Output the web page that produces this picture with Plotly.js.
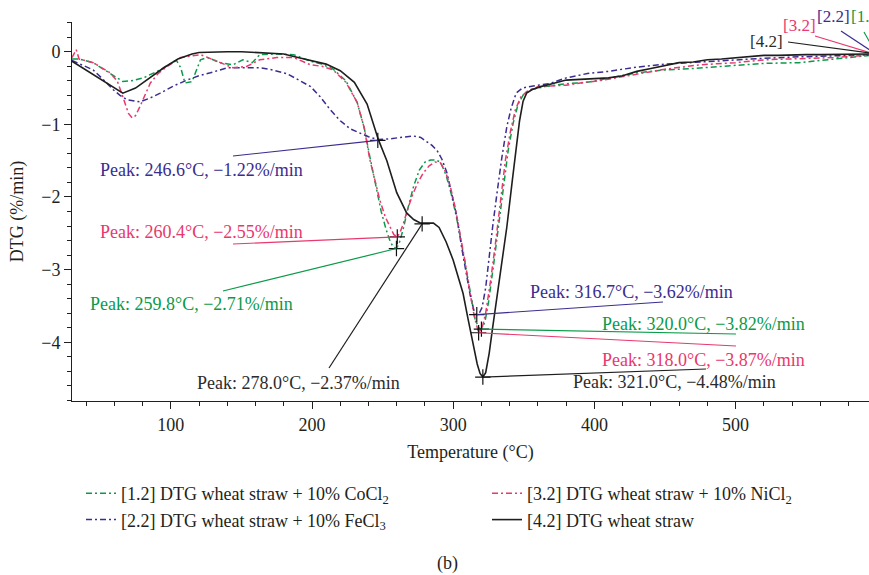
<!DOCTYPE html>
<html>
<head>
<meta charset="utf-8">
<script src="https://cdn.plot.ly/plotly-3.0.1.min.js"></script>
<style>html,body{margin:0;padding:0;overflow:hidden;background:#fff}#chart{width:869px;height:575px}</style>
</head>
<body>
<div id="chart"></div>
<script>
// ---- data ----
const tempCo = [30,35,45,57,62,66,72,80.5,86,92.5,101.7,104,107,110,115,118,121,126,135,144,151,157.6,163,175,187,199,207,215,224,232,237,241,245,249,252.5,255.5,257.7,259.8,262,264.5,268,272,276,280,284,287.5,291,295,298.5,302,305.5,309,312.5,315.5,318,320,322.5,325,328.5,332,335.5,339,342.5,346,350,355,365,380,395,410,430,450,470,498,520,545,570,600];
const dtgCo = [-0.10,-0.10,-0.15,-0.29,-0.36,-0.41,-0.40,-0.36,-0.31,-0.25,-0.14,-0.12,-0.22,-0.43,-0.41,-0.25,-0.11,-0.08,-0.15,-0.18,-0.11,-0.15,-0.04,-0.03,-0.04,-0.13,-0.17,-0.24,-0.40,-0.70,-1.05,-1.45,-1.85,-2.20,-2.45,-2.62,-2.69,-2.71,-2.62,-2.45,-2.15,-1.85,-1.63,-1.52,-1.49,-1.49,-1.52,-1.70,-1.95,-2.25,-2.60,-2.98,-3.38,-3.68,-3.80,-3.82,-3.72,-3.45,-2.95,-2.40,-1.85,-1.35,-0.98,-0.72,-0.58,-0.52,-0.48,-0.44,-0.42,-0.36,-0.29,-0.25,-0.23,-0.19,-0.16,-0.15,-0.10,-0.04];

const tempFe = [30,37,45,52,59,64,69,78,85,92.5,102,111.5,120,128,140,152,163,172,182,191.6,199,205.8,213,220,227,234,240,246.6,255,262.5,271.7,277,281.5,285,288.6,292,295.6,299,302.7,306,309.8,312,314.5,316.7,318.5,320.5,323,325,328,331,334.5,338,341,344.6,349,356.7,368,380,395,410,427,450,475,498,520,545,570,600];
const dtgFe = [-0.12,-0.18,-0.25,-0.38,-0.52,-0.60,-0.66,-0.69,-0.64,-0.57,-0.47,-0.39,-0.33,-0.29,-0.22,-0.22,-0.22,-0.25,-0.30,-0.40,-0.48,-0.62,-0.80,-0.95,-1.06,-1.12,-1.17,-1.21,-1.20,-1.18,-1.16,-1.18,-1.24,-1.29,-1.36,-1.48,-1.67,-1.95,-2.28,-2.70,-3.10,-3.35,-3.55,-3.62,-3.60,-3.52,-3.25,-2.87,-2.40,-1.95,-1.45,-1.03,-0.78,-0.57,-0.50,-0.47,-0.44,-0.36,-0.30,-0.27,-0.22,-0.17,-0.14,-0.11,-0.09,-0.07,-0.06,-0.04];

const tempNi = [30,33,35,45,57,62,66,70,72.6,75,78,82,85.5,91,97.5,107,121,130,137,144,154,163,175,187,199,207,215,224,232,237,241,245,248,252,255,258,260.4,262.5,264.8,268,271.7,275,278.8,283,287,291,294.5,298,301.5,305,308.5,312,315,318,320.5,323,326.5,330,333.5,337,340.5,344,348,352,360,370,380,390,403,415,432,450,474.5,500,521,545,569,600];
const dtgNi = [-0.08,0.03,-0.10,-0.15,-0.29,-0.40,-0.62,-0.85,-0.91,-0.88,-0.76,-0.58,-0.43,-0.30,-0.20,-0.08,-0.04,-0.11,-0.16,-0.22,-0.20,-0.11,-0.08,-0.08,-0.18,-0.20,-0.25,-0.42,-0.70,-1.05,-1.49,-1.82,-2.04,-2.28,-2.41,-2.52,-2.55,-2.48,-2.36,-2.15,-1.95,-1.80,-1.67,-1.57,-1.52,-1.53,-1.65,-1.86,-2.15,-2.50,-2.90,-3.33,-3.65,-3.87,-3.80,-3.60,-3.15,-2.63,-2.05,-1.49,-1.10,-0.80,-0.62,-0.55,-0.48,-0.47,-0.46,-0.43,-0.40,-0.36,-0.30,-0.24,-0.18,-0.15,-0.11,-0.10,-0.08,-0.04];

const tempWs = [30,40,50,60,66,75,85,95,105,115,120,130,140,150,160,170,180,190,200,210,220,230,239,247,253,260,267,272,277,282,286,290,295,300,303.5,307,310.5,314,317,319,321,323,325.5,328,333,338,342,345,347,349.5,352,356,362,370,380,390,400,410,420,430,440,450,460,470,480,490,500,510,520,530,540,550,560,570,580,590,600];
const dtgWs = [-0.13,-0.25,-0.38,-0.50,-0.57,-0.50,-0.36,-0.22,-0.10,-0.03,-0.01,0.00,0.00,0.00,-0.01,-0.02,-0.03,-0.08,-0.12,-0.17,-0.26,-0.42,-0.72,-1.21,-1.50,-1.94,-2.22,-2.31,-2.36,-2.36,-2.36,-2.42,-2.62,-2.87,-3.10,-3.33,-3.68,-4.01,-4.30,-4.43,-4.48,-4.42,-4.15,-3.79,-3.10,-2.41,-1.75,-1.26,-0.95,-0.68,-0.57,-0.52,-0.48,-0.44,-0.39,-0.38,-0.37,-0.36,-0.33,-0.27,-0.23,-0.19,-0.15,-0.14,-0.11,-0.10,-0.08,-0.07,-0.05,-0.05,-0.04,-0.04,-0.04,-0.04,-0.03,-0.04,-0.03];

const seriesNames = ['[1.2] DTG wheat straw + 10% CoCl<sub>2</sub>','[2.2] DTG wheat straw + 10% FeCl<sub>3</sub>','[3.2] DTG wheat straw + 10% NiCl<sub>2</sub>','[4.2] DTG wheat straw'];
const seriesTags = ['[1.2]','[2.2]','[3.2]','[4.2]'];

// peak annotations: temperature, DTG value, series index
const peakTemp = [246.6, 260.4, 259.8, 278.0, 316.7, 320.0, 318.0, 321.0];
const peakDtg  = [-1.22, -2.55, -2.71, -2.37, -3.62, -3.82, -3.87, -4.48];
const peakSeries = [1, 2, 0, 3, 1, 0, 2, 3];

// ---- styling / layout ----
const colors = ['#0a9a48', '#3a2d8f', '#e8386d', '#1e1e1e'];
const textColors = ['#0a9a48', '#3a2d8f', '#e8386d', '#2b2b2b'];
const dashes = ['6px,3px,2px,3px','6px,3px,2px,3px','6px,3px,2px,3px','solid'];
const legendOf = ['legend', 'legend', 'legend2', 'legend2'];
const FONT = 'Liberation Serif, Times New Roman, serif';

const L = 72, T = 22, B = 174, W = 869, H = 575;
const xr = [30, 594.5], yr = [-4.81, 0.41];
const pw = W - L, ph = H - T - B;
const toX = px => xr[0] + (px - L) / pw * (xr[1] - xr[0]);
const toY = py => yr[1] - (py - T) / ph * (yr[1] - yr[0]);
const toPX = px => (px - L) / pw;
const toPY = py => (T + ph - py) / ph;

// label layout (pixels): text anchor (left edge, middle), line start
const labelPos = [
  {tx: 98,  ty: 170, lx: 233, ly: 156},
  {tx: 98,  ty: 232, lx: 233, ly: 244},
  {tx: 88,  ty: 304, lx: 223, ly: 291},
  {tx: 195, ty: 383, lx: 329, ly: 368},
  {tx: 528, ty: 292, lx: 663, ly: 302},
  {tx: 600, ty: 324, lx: 736, ly: 334},
  {tx: 600, ty: 360, lx: 736, ly: 346},
  {tx: 571, ty: 382, lx: 706, ly: 369}
];
const tagPos = [
  {tx: 849, ty: 17, lx: 864, ly: 32},
  {tx: 815, ty: 17, lx: 841, ly: 31},
  {tx: 781, ty: 25, lx: 815, ly: 36},
  {tx: 748, ty: 41, lx: 788, ly: 42}
];

const xs = [tempCo, tempFe, tempNi, tempWs];
const ys = [dtgCo, dtgFe, dtgNi, dtgWs];

const traces = xs.map((x, i) => ({
  x: x, y: ys[i], type: 'scatter', mode: 'lines', name: seriesNames[i],
  legend: legendOf[i],
  line: {color: colors[i], width: i === 3 ? 1.6 : 1.5, dash: dashes[i]},
  hoverinfo: 'skip'
}));

traces.push({
  x: peakTemp, y: peakDtg, type: 'scatter', mode: 'markers', showlegend: false,
  marker: {symbol: 'cross-thin', size: 11, line: {color: '#111', width: 1.2}},
  hoverinfo: 'skip'
});

const fmt = (t, v) => 'Peak: ' + t.toFixed(1) + '°C, \u2212' + Math.abs(v).toFixed(2) + '%/min';

const shapes = [];
const annotations = [];
peakTemp.forEach((t, k) => {
  const s = peakSeries[k], p = labelPos[k];
  shapes.push({type: 'line', xref: 'x', yref: 'y', x0: toX(p.lx), y0: toY(p.ly), x1: t, y1: peakDtg[k],
    line: {color: colors[s], width: 1.2}});
  annotations.push({xref: 'paper', yref: 'paper', x: toPX(p.tx), y: toPY(p.ty), xanchor: 'left', yanchor: 'middle',
    text: fmt(t, peakDtg[k]), showarrow: false, font: {family: FONT, size: 18, color: textColors[s]}});
});

// tags at the right end of the curves
const endT = xs.map(x => x[x.length - 1]);
const endV = ys.map(y => y[y.length - 1]);
tagPos.forEach((p, i) => {
  shapes.push({type: 'line', xref: 'x', yref: 'y', x0: toX(p.lx), y0: toY(p.ly), x1: endT[i], y1: endV[i],
    line: {color: colors[i], width: 1.2}});
  annotations.push({xref: 'paper', yref: 'paper', x: toPX(p.tx), y: toPY(p.ty), xanchor: 'left', yanchor: 'middle',
    text: seriesTags[i], showarrow: false, font: {family: FONT, size: 17, color: textColors[i]}});
});

annotations.push({xref: 'paper', yref: 'paper', x: toPX(447), y: toPY(563), xanchor: 'center', yanchor: 'middle',
  text: '(b)', showarrow: false, font: {family: FONT, size: 18, color: '#231f20'}});

const axisCommon = {
  showline: true, linecolor: '#231f20', linewidth: 1, mirror: false,
  showgrid: false, zeroline: false, ticks: 'outside', ticklen: 7, tickwidth: 1, tickcolor: '#231f20',
  tickfont: {family: FONT, size: 18, color: '#231f20'}
};

const legendCommon = {
  orientation: 'v', xanchor: 'left', yanchor: 'top', y: toPY(475),
  traceorder: 'normal', font: {family: FONT, size: 18, color: '#231f20'}, bgcolor: 'rgba(0,0,0,0)'
};

const layout = {
  width: W, height: H,
  margin: {l: L, r: 0, t: T, b: B, pad: 0, autoexpand: false},
  paper_bgcolor: '#fff', plot_bgcolor: '#fff',
  font: {family: FONT, size: 18, color: '#231f20'},
  xaxis: Object.assign({}, axisCommon, {
    range: xr, tickmode: 'array', tickvals: [100, 200, 300, 400, 500],
    minor: {tickmode: 'linear', tick0: 0, dtick: 20, ticklen: 4, tickwidth: 1, tickcolor: '#231f20', ticks: 'outside', showgrid: false},
    title: {text: 'Temperature (°C)', font: {family: FONT, size: 18, color: '#231f20'}, standoff: 11}
  }),
  yaxis: Object.assign({}, axisCommon, {
    range: yr, tickmode: 'array', tickvals: [0, -1, -2, -3, -4],
    minor: {tickmode: 'linear', tick0: 0, dtick: 0.2, ticklen: 4, tickwidth: 1, tickcolor: '#231f20', ticks: 'outside', showgrid: false},
    title: {text: 'DTG (%/min)', font: {family: FONT, size: 18, color: '#231f20'}, standoff: 12}
  }),
  showlegend: true,
  legend: Object.assign({}, legendCommon, {x: toPX(81)}),
  legend2: Object.assign({}, legendCommon, {x: toPX(487)}),
  shapes: shapes,
  annotations: annotations
};

Plotly.newPlot('chart', traces, layout, {staticPlot: true, displayModeBar: false});
</script>
</body>
</html>
